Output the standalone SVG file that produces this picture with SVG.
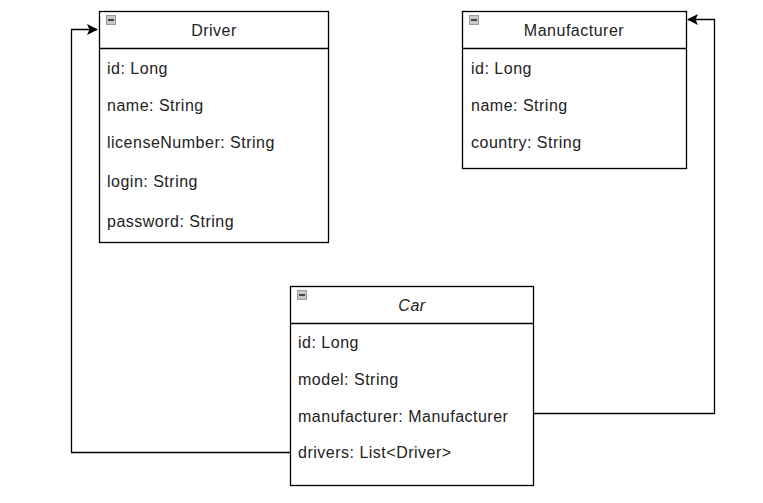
<svg xmlns="http://www.w3.org/2000/svg" width="763" height="503" viewBox="0 0 763 503">
<defs>
<style>
.box{fill:#fff;stroke:#000;stroke-width:1.3}
.sep{stroke:#000;stroke-width:1.3}
.t{font-family:"Liberation Sans",Arial,sans-serif;font-size:16px;letter-spacing:0.5px;fill:#222}
.title{text-anchor:middle}
.edge{fill:none;stroke:#000;stroke-width:1.3}
.ic{fill:#c8c8c8;stroke:#888;stroke-width:0.8}
.icl{stroke:#222;stroke-width:1.6}
</style>
<marker id="arr" markerWidth="11" markerHeight="11" refX="10" refY="5.5" orient="auto" markerUnits="userSpaceOnUse">
<path d="M0,0 L11,5.5 L0,11 L2.5,5.5 Z" fill="#000"/>
</marker>
</defs>
<g id="connectors">
<path class="edge" d="M290,452.5 H71.5 V29.5 H97" marker-end="url(#arr)"/>
<path class="edge" d="M533,413.5 H714.5 V19.5 H688" marker-end="url(#arr)"/>
</g>
<g id="driver">
<rect class="box" x="99.5" y="11.5" width="229" height="231"/>
<line class="sep" x1="99.5" y1="48.5" x2="328.5" y2="48.5"/>
<rect class="ic" x="106.5" y="15.5" width="9" height="9"/>
<line class="icl" x1="108" y1="20" x2="114" y2="20"/>
<text class="t title" x="214" y="36">Driver</text>
<text class="t" x="107" y="74">id: Long</text>
<text class="t" x="107" y="111">name: String</text>
<text class="t" x="107" y="148">licenseNumber: String</text>
<text class="t" x="107" y="187">login: String</text>
<text class="t" x="107" y="227">password: String</text>
</g>
<g id="manufacturer">
<rect class="box" x="462.5" y="11.5" width="224" height="157"/>
<line class="sep" x1="462.5" y1="48.5" x2="686.5" y2="48.5"/>
<rect class="ic" x="469.5" y="15.5" width="9" height="9"/>
<line class="icl" x1="471" y1="20" x2="477" y2="20"/>
<text class="t title" x="574" y="36">Manufacturer</text>
<text class="t" x="471" y="74">id: Long</text>
<text class="t" x="471" y="111">name: String</text>
<text class="t" x="471" y="148">country: String</text>
</g>
<g id="car">
<rect class="box" x="290.5" y="286.5" width="243" height="199"/>
<line class="sep" x1="290.5" y1="323.5" x2="533.5" y2="323.5"/>
<rect class="ic" x="297.5" y="290.5" width="9" height="9"/>
<line class="icl" x1="299" y1="295" x2="305" y2="295"/>
<text class="t title" x="412" y="311" font-style="italic">Car</text>
<text class="t" x="298" y="348">id: Long</text>
<text class="t" x="298" y="385">model: String</text>
<text class="t" x="298" y="422">manufacturer: Manufacturer</text>
<text class="t" x="298" y="458">drivers: List&lt;Driver&gt;</text>
</g>
</svg>
